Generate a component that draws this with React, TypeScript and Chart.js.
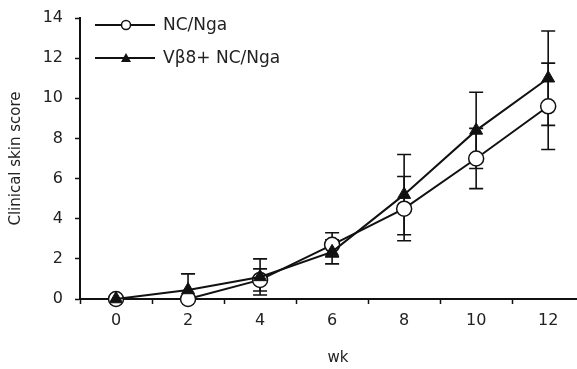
import React, { useEffect, useRef } from "react";
import { Chart, registerables } from "chart.js";

Chart.register(...registerables);

const weeks = [0, 2, 4, 6, 8, 10, 12];
const ncNga = [0, 0, 0.95, 2.7, 4.5, 7.0, 9.6];
const ncNgaErr = [0, 0, 0.55, 0.6, 1.6, 1.5, 2.15];
const vb8 = [0, 0.45, 1.1, 2.35, 5.2, 8.4, 11.0];
const vb8Err = [0, 0.8, 0.9, 0.6, 2.0, 1.9, 2.35];
const yTicks = [0, 2, 4, 6, 8, 10, 12, 14];
const xTickMarks = [-1, 0, 1, 2, 3, 4, 5, 6, 7, 8, 9, 10, 11, 12];
const seriesLabels = ["NC/Nga", "V\u03b28+ NC/Nga"];
const xTitle = "wk";
const yTitle = "Clinical skin score";
const errors = [ncNgaErr, vb8Err];

const FONT = "'DejaVu Sans', 'Liberation Sans', Arial, sans-serif";

const errorBarPlugin = {
  id: "errorBars",
  beforeDatasetsDraw(chart: any) {
    const ctx = chart.ctx;
    const yScale = chart.scales.y;
    ctx.save();
    ctx.strokeStyle = "#111";
    ctx.lineWidth = 1.6;
    chart.data.datasets.forEach((ds: any, i: number) => {
      const meta = chart.getDatasetMeta(i);
      const errs = errors[i];
      meta.data.forEach((pt: any, j: number) => {
        const v = ds.data[j].y;
        const e = errs[j];
        if (!e) return;
        const top = yScale.getPixelForValue(v + e);
        const bot = yScale.getPixelForValue(Math.max(0, v - e));
        const x = pt.x;
        const cap = 7;
        ctx.beginPath();
        ctx.moveTo(x, top);
        ctx.lineTo(x, bot);
        ctx.moveTo(x - cap, top);
        ctx.lineTo(x + cap, top);
        if (v - e > 0) {
          ctx.moveTo(x - cap, bot);
          ctx.lineTo(x + cap, bot);
        }
        ctx.stroke();
      });
    });
    ctx.restore();
  },
};

const legendPlugin = {
  id: "customLegend",
  afterDraw(chart: any) {
    const ctx = chart.ctx;
    ctx.save();
    const rows = [25, 58];
    chart.data.datasets.forEach((ds: any, i: number) => {
      const y = rows[i];
      ctx.strokeStyle = "#111";
      ctx.lineWidth = 2;
      ctx.beginPath();
      ctx.moveTo(95, y);
      ctx.lineTo(155, y);
      ctx.stroke();
      ctx.lineWidth = 1.5;
      ctx.fillStyle = ds.pointBackgroundColor;
      ctx.strokeStyle = "#111";
      if (ds.pointStyle === "circle") {
        ctx.beginPath();
        ctx.arc(126, y, 4.5, 0, Math.PI * 2);
        ctx.fill();
        ctx.stroke();
      } else {
        ctx.beginPath();
        ctx.moveTo(126, y - 5);
        ctx.lineTo(131, y + 4);
        ctx.lineTo(121, y + 4);
        ctx.closePath();
        ctx.fill();
      }
      ctx.fillStyle = "#222";
      ctx.font = `17px ${FONT}`;
      ctx.textAlign = "left";
      ctx.textBaseline = "middle";
      ctx.fillText(ds.label, 163, y + 1);
    });
    // x-axis title
    ctx.fillStyle = "#222";
    ctx.font = `15px ${FONT}`;
    ctx.textAlign = "center";
    ctx.textBaseline = "middle";
    ctx.fillText(xTitle, 338, 358);
    ctx.restore();
  },
};

export default function App() {
  const ref = useRef<HTMLCanvasElement>(null);
  useEffect(() => {
    if (!ref.current) return;
    const chart = new Chart(ref.current, {
      type: "line",
      data: {
        datasets: [
          {
            label: seriesLabels[0],
            data: weeks.map((w, i) => ({ x: w, y: ncNga[i] })),
            borderColor: "#111",
            borderWidth: 2,
            pointStyle: "circle",
            pointRadius: 7.5,
            pointBackgroundColor: "#fff",
            pointBorderColor: "#111",
            pointBorderWidth: 1.5,
            tension: 0,
            clip: false,
            order: 1,
          },
          {
            label: seriesLabels[1],
            data: weeks.map((w, i) => ({ x: w, y: vb8[i] })),
            borderColor: "#111",
            borderWidth: 2,
            pointStyle: "triangle",
            pointRadius: 7.5,
            pointBackgroundColor: "#111",
            pointBorderColor: "#111",
            pointBorderWidth: 1,
            tension: 0,
            clip: false,
            order: 0,
          },
        ],
      },
      options: {
        responsive: false,
        animation: false,
        layout: { autoPadding: false, padding: { top: 18, right: 0, left: 0, bottom: 0 } },
        plugins: { legend: { display: false }, tooltip: { enabled: false } },
        scales: {
          x: {
            type: "linear",
            min: -1,
            max: 12.8,
            afterBuildTicks: (scale: any) => {
              scale.ticks = xTickMarks.map((v) => ({ value: v }));
            },
            afterFit: (scale: any) => {
              scale.height = 70;
            },
            ticks: {
              autoSkip: false,
              maxRotation: 0,
              padding: 0,
              color: "#222",
              font: { family: FONT, size: 16, lineHeight: 2.1 },
              callback: (v: any) => (weeks.includes(v) ? String(v) : ""),
            },
            grid: {
              drawOnChartArea: false,
              tickLength: 5,
              tickWidth: 1.5,
              tickColor: (c: any) =>
                c.tick && Math.abs(c.tick.value % 2) === 1 ? "#111" : "rgba(0,0,0,0)",
            },
            border: { color: "#111", width: 2 },
            title: { display: false },
          },
          y: {
            min: 0,
            max: 14,
            afterBuildTicks: (scale: any) => {
              scale.ticks = yTicks.map((v) => ({ value: v }));
            },
            afterFit: (scale: any) => {
              scale.width = 80;
            },
            ticks: {
              padding: 12,
              color: "#222",
              font: { family: FONT, size: 16, lineHeight: 0.75 },
            },
            grid: {
              drawOnChartArea: false,
              tickLength: 5,
              tickWidth: 1.5,
              tickColor: "#111",
            },
            border: { color: "#111", width: 2 },
            title: {
              display: true,
              text: yTitle,
              color: "#222",
              font: { family: FONT, size: 15 },
              padding: { top: 7, bottom: 0 },
            },
          },
        },
      },
      plugins: [errorBarPlugin, legendPlugin],
    } as any);
    return () => chart.destroy();
  }, []);
  return (
    <div style={{ position: "fixed", left: 0, top: 0, width: 577, height: 369, background: "#fff" }}>
      <canvas ref={ref} width={577} height={369} style={{ display: "block" }} />
    </div>
  );
}
